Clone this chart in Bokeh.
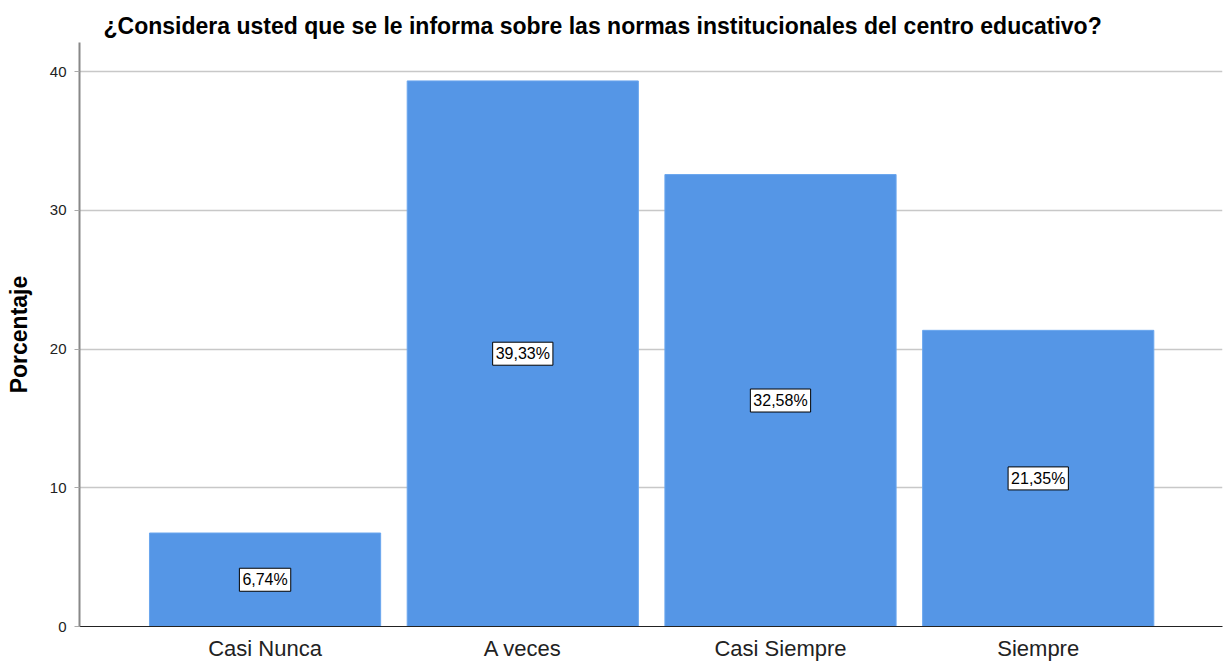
from bokeh.plotting import figure
from bokeh.models import ColumnDataSource, Range1d, FixedTicker
from bokeh.core.properties import value
from bokeh.embed import file_html
from bokeh.resources import INLINE

categories = ["Casi Nunca", "A veces", "Casi Siempre", "Siempre"]
percentages = [6.74, 39.33, 32.58, 21.35]
label_texts = ["6,74%", "39,33%", "32,58%", "21,35%"]
y_ticks = [0, 10, 20, 30, 40]

FONT = "Liberation Sans"

xs = list(range(len(categories)))
src = ColumnDataSource(dict(
    x=xs,
    top=percentages,
    mid=[v / 2 for v in percentages],
    label=label_texts,
))

p = figure(width=1224, height=663, output_backend="svg", toolbar_location=None,
           x_range=Range1d(-0.72, len(categories) - 1 + 0.715),
           y_range=Range1d(0, 42.1),
           min_border_left=79, min_border_right=2, min_border_bottom=36,
           min_border_top=42)

p.vbar(x="x", top="top", width=0.897, source=src,
       fill_color="#5596E6", line_color="#6aa6ee", line_width=1)

p.text(x="x", y="mid", text="label", source=src,
       text_align="center", text_baseline="middle",
       text_font=value(FONT), text_font_size="16px", text_color="black",
       background_fill_color="white",
       border_line_color="black", border_line_width=1,
       padding=3)

p.title.text = "¿Considera usted que se le informa sobre las normas institucionales del centro educativo?"
p.title.text_font = FONT
p.title.text_font_size = "23px"
p.title.text_font_style = "bold"
p.title.text_color = "black"
p.title.offset = 24
p.title.standoff = 8

p.xaxis.ticker = FixedTicker(ticks=xs)
p.xaxis.major_label_overrides = {i: c for i, c in enumerate(categories)}
p.xaxis.major_label_text_font = FONT
p.xaxis.major_label_text_font_size = "22px"
p.xaxis.major_label_text_color = "#222222"
p.xaxis.major_tick_line_color = None
p.xaxis.major_tick_out = 0
p.xaxis.major_tick_in = 0
p.xaxis.minor_tick_line_color = None
p.xaxis.axis_line_color = "#222222"
p.xaxis.major_label_standoff = 9

p.yaxis.ticker = FixedTicker(ticks=y_ticks)
p.yaxis.axis_label = "Porcentaje"
p.yaxis.axis_label_text_font = FONT
p.yaxis.axis_label_text_font_size = "23px"
p.yaxis.axis_label_text_font_style = "bold"
p.yaxis.axis_label_text_color = "black"
p.yaxis.axis_label_standoff = 15
p.yaxis.major_label_text_font = FONT
p.yaxis.major_label_text_font_size = "15px"
p.yaxis.major_label_text_color = "#222222"
p.yaxis.axis_line_color = "#888888"
p.yaxis.axis_line_width = 2
p.yaxis.major_tick_line_color = "#aaaaaa"
p.yaxis.major_tick_in = 0
p.yaxis.major_tick_out = 5
p.yaxis.minor_tick_line_color = None
p.yaxis.major_label_standoff = 8

p.xgrid.grid_line_color = None
p.ygrid.grid_line_color = "#c8c8c8"
p.ygrid.grid_line_width = 1.5
p.outline_line_color = None

open("out.html", "w").write(file_html(p, INLINE))
